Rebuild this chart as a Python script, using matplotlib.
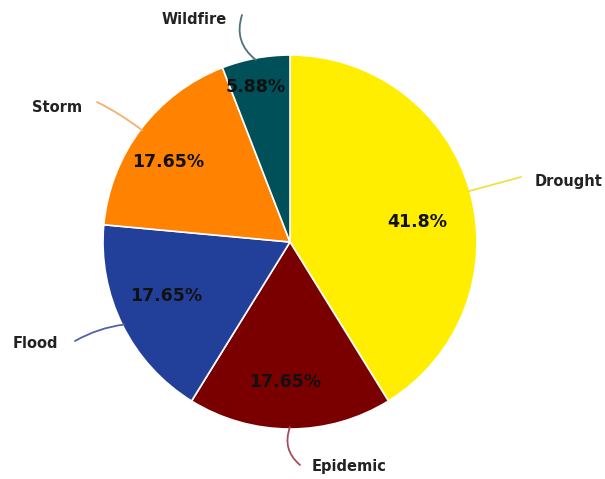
import numpy as np
import matplotlib.pyplot as plt

# data
categories = ['Drought', 'Epidemic', 'Flood', 'Storm', 'Wildfire']
counts = [7, 3, 3, 3, 1]
pct_labels = ['41.8%', '17.65%', '17.65%', '17.65%', '5.88%']
colors = ['#FFEE00', '#7A0000', '#22409A', '#FF8200', '#00505A']
line_colors = ['#F0E04A', '#A0505E', '#5462A6', '#F2B070', '#4D7278']

W, H = 605, 479
fig = plt.figure(figsize=(W / 100, H / 100), dpi=100)
ax = fig.add_axes([0, 0, 1, 1])

cx, cy, R = 290, H - 242, 187
wedges, _ = ax.pie(counts, colors=colors, startangle=90, counterclock=False,
                   center=(cx, cy), radius=R,
                   wedgeprops=dict(edgecolor='white', linewidth=1.2))
ax.set_xlim(0, W)
ax.set_ylim(0, H)
ax.set_aspect('equal')
ax.set_axis_off()

# percentage labels: radius fraction and angle tweak per slice
pct_r = [0.69, 0.75, 0.72, 0.78, 0.85]
pct_dang = [-7, -2, -3, 4, 2]
# category labels (pixel positions, y from top) and where the leader ends
lab_pos = [(569, 181), (349, 466), (35, 344), (57, 107), (194, 19)]
line_end = [(521, 177), (300, 465), (75, 341), (97, 102), (242, 15)]
line_rad = [0.0, -0.35, -0.1, -0.05, 0.35]

for i, w in enumerate(wedges):
    mid = np.deg2rad((w.theta1 + w.theta2) / 2)
    a = mid + np.deg2rad(pct_dang[i])
    ax.text(cx + pct_r[i] * R * np.cos(a), cy + pct_r[i] * R * np.sin(a),
            pct_labels[i], ha='center', va='center', fontsize=12.5,
            fontweight='bold', color='#111111')
    sx = cx + 0.99 * R * np.cos(mid)
    sy = cy + 0.99 * R * np.sin(mid)
    ex, ey = line_end[i]
    ax.annotate('', xy=(sx, sy), xytext=(ex, H - ey),
                arrowprops=dict(arrowstyle='-', color=line_colors[i], lw=1.3,
                                shrinkA=0, shrinkB=0,
                                connectionstyle='arc3,rad=%s' % line_rad[i]))
    lx, ly = lab_pos[i]
    ax.text(lx, H - ly, categories[i], ha='center', va='center',
            fontsize=10.5, fontweight='bold', color='#222222')

fig.savefig('out.png', dpi=100)
